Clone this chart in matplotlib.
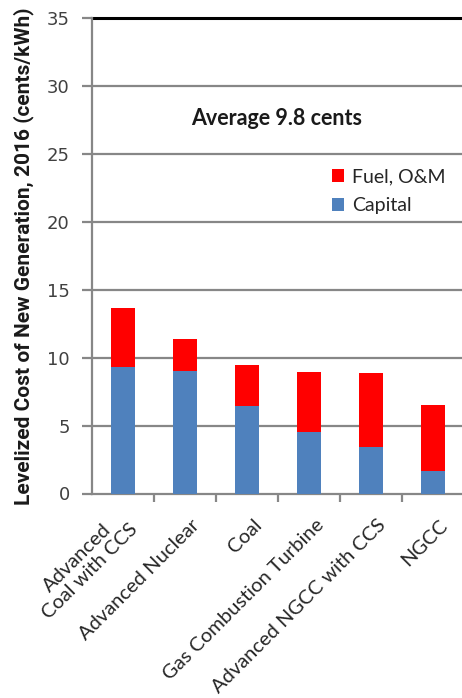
import matplotlib
matplotlib.use("Agg")
import matplotlib.pyplot as plt
from matplotlib.patches import Patch
import matplotlib.transforms as mtransforms

categories = ["Advanced\nCoal with CCS", "Advanced Nuclear", "Coal",
              "Gas Combustion Turbine", "Advanced NGCC with CCS", "NGCC"]
capital = [9.3, 9.0, 6.45, 4.5, 3.4, 1.65]
fuel_om = [4.35, 2.4, 3.0, 4.45, 5.45, 4.9]
y_ticks = [0, 5, 10, 15, 20, 25, 30, 35]
avg_text = "Average 9.8 cents"
ylabel = "Levelized Cost of New Generation, 2016 (cents/kWh)"

RED = "#FF0000"
BLUE = "#4F81BD"
GRID = "#878787"
FONT = ["Lato", "DejaVu Sans"]

fig = plt.figure(figsize=(4.62, 6.98), dpi=100)
ax = fig.add_axes([92/462, 1-493.5/698, (464-92)/462, (493.5-18)/698])

x = list(range(len(categories)))
ax.bar(x, capital, width=0.4, color=BLUE, zorder=3)
ax.bar(x, fuel_om, width=0.4, bottom=capital, color=RED, zorder=3)

ax.set_xlim(-0.5, len(categories) - 0.5)
ax.set_ylim(0, 35)
ax.set_yticks(y_ticks)
ax.set_yticklabels([str(t) for t in y_ticks], fontsize=13, color="#404040",
                   family=["DejaVu Sans"])
for t in y_ticks[1:-1]:
    ax.axhline(t, color=GRID, lw=1.6, zorder=1)
ax.axhline(35, color="black", lw=2.2, zorder=1, clip_on=False)

for s in ["top", "right"]:
    ax.spines[s].set_visible(False)
ax.spines["left"].set_color(GRID)
ax.spines["left"].set_linewidth(1.6)
ax.spines["bottom"].set_color(GRID)
ax.spines["bottom"].set_linewidth(1.6)
ax.tick_params(axis="y", direction="out", length=7, width=1.6, color=GRID, pad=9)

ax.set_xticks([i + 0.5 for i in x[:-1]])
ax.set_xticklabels([])
ax.tick_params(axis="x", direction="out", length=6, width=1.6, color=GRID)

for i, c in enumerate(categories):
    dx, dy = (6, -23) if i else (-7, -14)
    offset = mtransforms.ScaledTranslation(dx/100, dy/100, fig.dpi_scale_trans)
    ax.text(i, 0, c, rotation=45, ha="right", va="top", rotation_mode="anchor",
            fontsize=14.5, color="#262626", family=FONT,
            multialignment="center", linespacing=1.05,
            transform=ax.transData + offset)

# y label, size fitted to the reference's label length
ylab = fig.text(24/462, 1-256/698, ylabel, rotation=90, ha="center", va="center",
                fontsize=13.5, fontweight="bold", color="#1a1a1a",
                family=["Roboto", "Liberation Sans", "DejaVu Sans"])
renderer = fig.canvas.get_renderer()
h = ylab.get_window_extent(renderer).height
ylab.set_fontsize(13.5 * 496 / h)

ax.text(2.48, 27.6, avg_text, ha="center", va="center", fontsize=15.5,
        fontweight="bold", color="#1a1a1a", family=FONT, zorder=4)

handles = [Patch(facecolor=RED, edgecolor="none", label="Fuel, O&M"),
           Patch(facecolor=BLUE, edgecolor="none", label="Capital")]
leg = ax.legend(handles=handles, loc="upper left", bbox_to_anchor=(0.624, 0.700),
                frameon=False, handlelength=0.62, handleheight=0.62, handletextpad=0.4,
                labelspacing=0.62, prop={"family": FONT, "size": 14},
                borderaxespad=0)
for t in leg.get_texts():
    t.set_color("#262626")

fig.savefig("out.png", dpi=100)
